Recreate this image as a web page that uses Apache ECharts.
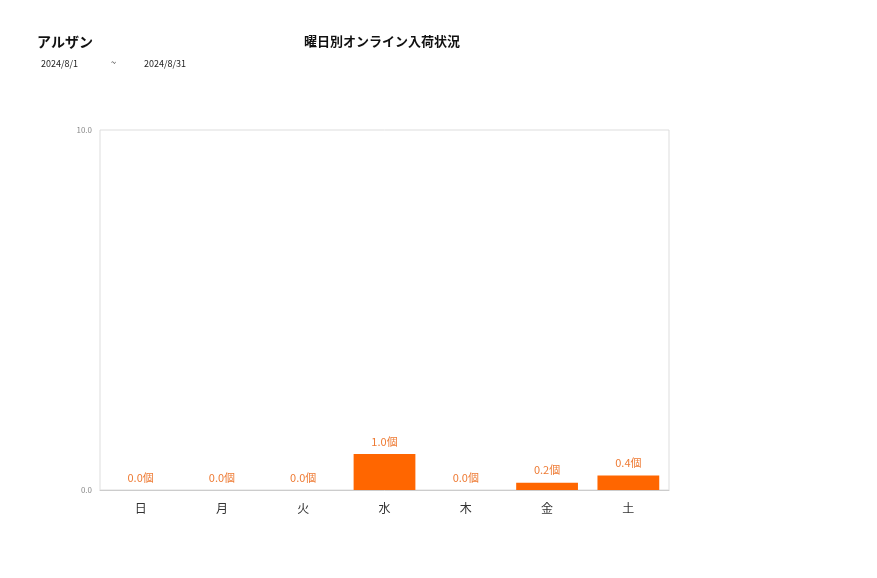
<!DOCTYPE html>
<html><head><meta charset="utf-8">
<script src="https://cdn.jsdelivr.net/npm/echarts@6/dist/echarts.min.js"></script>
<style>html,body{margin:0;padding:0;background:#fff}#c{width:877px;height:578px}</style>
</head><body><div id="c"></div>
<script>
var categories = ['日','月','火','水','木','金','土'];
var values = [0.0, 0.0, 0.0, 1.0, 0.0, 0.2, 0.4];
var yTicks = [0, 10];
var chart = echarts.init(document.getElementById('c'));
var ff = '"Noto Sans CJK JP", "Noto Sans", sans-serif';
chart.setOption({
  animation: false,
  textStyle: {fontFamily: ff},
  title: [
    {text: 'アルザン', left: 37, top: 35, padding: 0, textStyle: {fontSize: 14, fontWeight: 'bold', color: '#111', fontFamily: ff}},
    {text: '曜日別オンライン入荷状況', left: 382, textAlign: 'center', top: 35, padding: 0, textStyle: {fontSize: 13, fontWeight: 'bold', color: '#111', fontFamily: ff}},
    {text: '2024/8/1', left: 41, top: 59, padding: 0, textStyle: {fontSize: 9, fontWeight: 'normal', color: '#222', fontFamily: ff}},
    {text: '~', left: 111, top: 58, padding: 0, textStyle: {fontSize: 9, fontWeight: 'normal', color: '#222', fontFamily: ff}},
    {text: '2024/8/31', left: 144, top: 59, padding: 0, textStyle: {fontSize: 9, fontWeight: 'normal', color: '#222', fontFamily: ff}}
  ],
  grid: {left: 100, right: 208, top: 130, bottom: 88, show: true, borderColor: '#dddddd', borderWidth: 1, containLabel: false},
  xAxis: {
    type: 'category', data: categories,
    axisLine: {lineStyle: {color: '#cccccc'}},
    axisTick: {show: false},
    axisLabel: {color: '#333', fontSize: 12, margin: 12, fontFamily: ff}
  },
  yAxis: {
    type: 'value', min: yTicks[0], max: yTicks[1], interval: yTicks[1] - yTicks[0],
    splitLine: {show: false},
    axisLine: {show: false}, axisTick: {show: false},
    axisLabel: {color: '#888', fontSize: 8, formatter: function(v){return v.toFixed(1);}, margin: 8}
  },
  series: [{
    type: 'bar', data: values, barWidth: '76%',
    itemStyle: {color: '#ff6600'},
    label: {show: true, position: 'top', distance: 7, color: '#ee7a33', fontSize: 11, fontFamily: ff,
      formatter: function(p){return p.value.toFixed(1) + '個';}}
  }]
});
</script></body></html>
